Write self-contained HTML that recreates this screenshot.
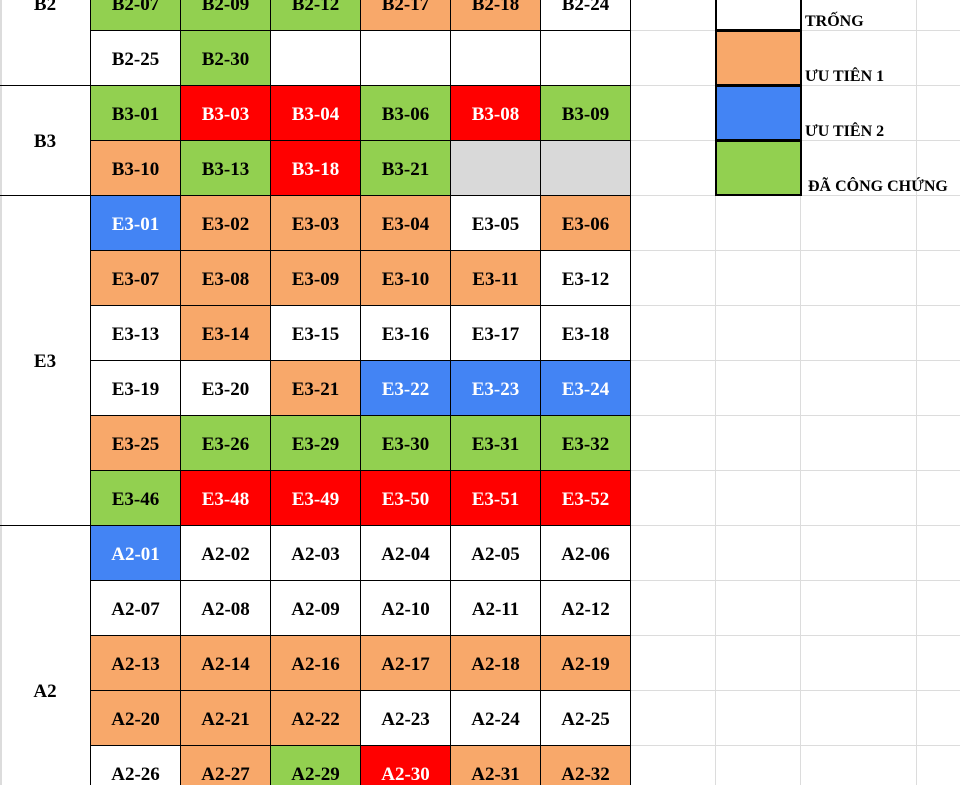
<!DOCTYPE html>
<html><head><meta charset="utf-8"><style>
html,body{margin:0;padding:0;width:960px;height:785px;overflow:hidden;background:#fff;}
#wrap{position:relative;width:960px;height:785px;overflow:hidden;font-family:"Liberation Serif","Noto Serif CJK SC",serif;font-weight:bold;}
.c{position:absolute;box-sizing:border-box;display:flex;align-items:center;justify-content:center;font-size:19px;color:#000;padding-top:3px;}
.gl{position:absolute;background:#dcdcdc;}
.lab{position:absolute;font-size:16px;white-space:nowrap;}
</style></head><body>
<div id="wrap"></div>
<script>
const groups = ["B2","B3","E3","A2"];
const groupRows = [[-1,1],[2,3],[4,9],[10,15]];
const units = [
 ["B2-07","B2-09","B2-12","B2-17","B2-18","B2-24"],
 ["B2-25","B2-30","","","",""],
 ["B3-01","B3-03","B3-04","B3-06","B3-08","B3-09"],
 ["B3-10","B3-13","B3-18","B3-21","",""],
 ["E3-01","E3-02","E3-03","E3-04","E3-05","E3-06"],
 ["E3-07","E3-08","E3-09","E3-10","E3-11","E3-12"],
 ["E3-13","E3-14","E3-15","E3-16","E3-17","E3-18"],
 ["E3-19","E3-20","E3-21","E3-22","E3-23","E3-24"],
 ["E3-25","E3-26","E3-29","E3-30","E3-31","E3-32"],
 ["E3-46","E3-48","E3-49","E3-50","E3-51","E3-52"],
 ["A2-01","A2-02","A2-03","A2-04","A2-05","A2-06"],
 ["A2-07","A2-08","A2-09","A2-10","A2-11","A2-12"],
 ["A2-13","A2-14","A2-16","A2-17","A2-18","A2-19"],
 ["A2-20","A2-21","A2-22","A2-23","A2-24","A2-25"],
 ["A2-26","A2-27","A2-29","A2-30","A2-31","A2-32"]
];
const status = [
 "gggoow","wgwwww","grrgrg","ogrgxx","booowo","ooooow","wowwww","wwobbb","oggggg","grrrrr","bwwwww","wwwwww","oooooo","ooowww","wogroo"
];
const legendLabels = ["TRỐNG","ƯU TIÊN 1","ƯU TIÊN 2","ĐÃ CÔNG CHỨNG"];
const legendColors = ["w","o","b","g"];
const colors = {g:"#92d050",o:"#f8a86a",r:"#ff0000",b:"#4384f4",w:"#ffffff",x:"#d9d9d9"};
const W = document.getElementById('wrap');
const rowY = i => 30 + (i-1)*55;
const colX = j => 90 + j*90;
function add(cls, x, y, w, h){const d=document.createElement('div');d.className=cls;d.style.left=x+'px';d.style.top=y+'px';d.style.width=w+'px';d.style.height=h+'px';W.appendChild(d);return d;}
[630,715,800,916].forEach(x=>{const g=add('gl',x,0,1,785);

});
for(let i=0;i<14;i++){const g=add('gl',630,rowY(i)+55,330,1);

}
add('gl',0,0,2,785);
groups.forEach((g,k)=>{const [a,b]=groupRows[k];const y0=a<0?-80:rowY(a);const y1=rowY(b)+55;
const d=add('c',0,y0,91,y1-y0+1);d.style.border='1px solid #000';d.style.borderLeft='none';d.textContent=g;

});
units.forEach((row,i)=>row.forEach((u,j)=>{const s=status[i][j];const d=add('c',colX(j),rowY(i),91,56);
d.style.border='1px solid #000';d.style.background=colors[s];d.textContent=u;
if(s==='r'||s==='b')d.style.color='#fff';

}));
legendLabels.forEach((l,k)=>{const y=k===0?-25:rowY(k);const d=add('c',715,y,87,56);
d.style.border='2px solid #000';d.style.background=colors[legendColors[k]];


const t=add('lab',k===3?808:805,y+38,150,18);t.textContent=l;

});
</script>
</body></html>
